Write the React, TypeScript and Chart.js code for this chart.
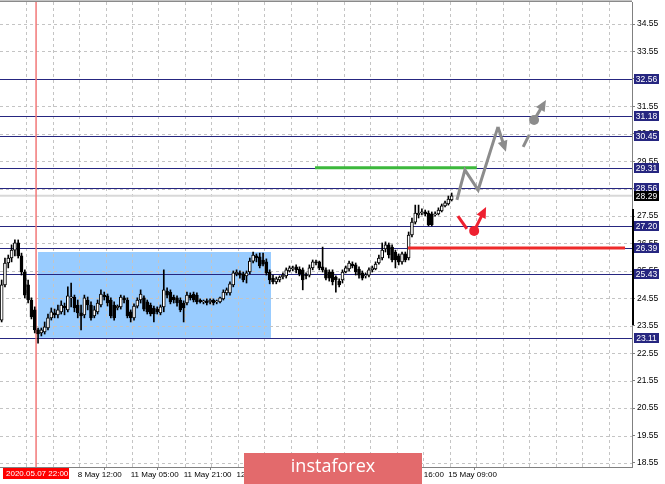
import { useEffect, useRef } from "react";
import { Chart, registerables } from "chart.js";
Chart.register(...registerables);

// ---- Candles (hourly bars), prices ----
const OPEN = [
  23.76, 25.04, 25.84, 26.02, 26.31, 26.57, 26.10, 25.51, 25.04, 24.49,
  24.13, 23.40, 23.29, 23.33, 23.47, 23.84, 24.02, 23.95, 24.06, 24.27,
  24.13, 24.57, 24.60, 24.31, 24.02, 23.95, 24.49, 24.31, 23.91, 24.06,
  24.31, 24.67, 24.64, 24.49, 24.31, 24.20, 24.24, 24.57, 24.49, 24.06,
  23.84, 24.27, 24.49, 24.57, 24.42, 24.31, 24.20, 24.16, 24.02, 24.24,
  24.82, 24.78, 24.60, 24.57, 24.49, 24.38, 24.38, 24.67, 24.71, 24.67,
  24.49, 24.42, 24.46, 24.42, 24.49, 24.42, 24.42, 24.53, 24.75, 24.75,
  25.04, 25.44, 25.48, 25.44, 25.37, 25.51, 25.91, 26.10, 26.06, 25.95,
  25.88, 25.51, 25.29, 25.15, 25.22, 25.33, 25.37, 25.55, 25.62, 25.70,
  25.62, 25.59, 25.40, 25.40, 25.66, 25.88, 25.88, 25.70, 25.59, 25.51,
  25.51, 25.33, 25.18, 25.22, 25.51, 25.62, 25.80, 25.77, 25.62, 25.48,
  25.37, 25.40, 25.59, 25.62, 25.84, 26.02, 26.35, 26.50, 26.42, 26.24,
  26.10, 25.88, 26.17, 26.02, 26.86, 27.33, 27.59, 27.66, 27.70, 27.66,
  27.63, 27.59, 27.63, 27.74, 27.92, 27.99, 28.14,
];
const HIGH = [
  25.22, 26.02, 26.13, 26.50, 26.68, 26.68, 26.20, 25.59, 25.22, 24.57,
  24.24, 23.47, 23.47, 23.69, 23.98, 24.20, 24.16, 24.31, 24.46, 24.38,
  24.97, 25.11, 24.67, 24.49, 24.31, 24.67, 24.60, 24.42, 24.27, 24.49,
  24.86, 24.78, 24.71, 24.57, 24.42, 24.31, 24.67, 24.64, 24.57, 24.13,
  24.35, 24.57, 24.86, 24.64, 24.49, 24.38, 24.27, 24.24, 24.31, 25.59,
  24.93, 24.86, 24.67, 24.64, 24.57, 24.46, 24.78, 24.75, 24.78, 24.75,
  24.53, 24.49, 24.53, 24.53, 24.53, 24.49, 24.60, 24.86, 24.93, 25.15,
  25.55, 25.59, 25.55, 25.51, 25.55, 26.02, 26.24, 26.17, 26.20, 26.20,
  25.99, 25.59, 25.40, 25.33, 25.37, 25.48, 25.66, 25.73, 25.73, 25.77,
  25.70, 25.66, 25.48, 25.77, 25.95, 25.95, 25.91, 26.42, 25.66, 25.59,
  25.59, 25.37, 25.26, 25.59, 25.73, 25.91, 25.88, 25.84, 25.70, 25.55,
  25.48, 25.66, 25.73, 25.88, 26.13, 26.57, 26.61, 26.57, 26.50, 26.31,
  26.17, 26.24, 26.24, 26.97, 27.48, 27.95, 27.95, 27.81, 27.77, 27.74,
  27.70, 27.70, 27.85, 27.99, 28.10, 28.28, 28.39,
];
const LOW = [
  23.69, 24.97, 25.66, 25.88, 26.10, 26.02, 25.40, 24.57, 24.38, 23.80,
  23.29, 22.92, 23.18, 23.25, 23.40, 23.76, 23.84, 23.84, 23.98, 23.95,
  24.06, 24.24, 24.06, 23.84, 23.40, 23.84, 24.13, 23.76, 23.84, 23.98,
  24.24, 24.49, 24.27, 23.84, 23.76, 24.13, 24.16, 24.38, 23.84, 23.69,
  23.76, 24.20, 24.38, 24.09, 23.98, 23.91, 23.69, 23.98, 23.95, 24.06,
  24.57, 24.35, 24.38, 24.27, 24.06, 23.69, 24.31, 24.49, 24.42, 24.35,
  24.38, 24.35, 24.31, 24.35, 24.31, 24.35, 24.38, 24.49, 24.67, 24.67,
  24.97, 25.37, 25.29, 25.15, 25.11, 25.44, 25.84, 25.88, 25.66, 25.73,
  25.40, 25.08, 25.08, 25.08, 25.15, 25.26, 25.29, 25.51, 25.55, 25.48,
  25.37, 24.86, 25.26, 25.33, 25.59, 25.77, 25.59, 25.51, 25.22, 25.18,
  25.04, 24.78, 24.97, 25.11, 25.48, 25.55, 25.66, 25.40, 25.29, 25.22,
  25.29, 25.33, 25.51, 25.59, 25.80, 25.95, 26.24, 26.02, 25.88, 25.66,
  25.77, 25.80, 25.88, 25.95, 26.79, 27.26, 27.48, 27.59, 27.55, 27.19,
  27.19, 27.55, 27.59, 27.70, 27.88, 27.95, 28.10,
];
const CLOSE = [
  25.04, 25.84, 26.02, 26.31, 26.57, 26.10, 25.51, 24.67, 24.49, 23.87,
  23.40, 23.25, 23.40, 23.51, 23.84, 24.06, 23.95, 24.13, 24.31, 24.20,
  24.64, 24.60, 24.20, 24.02, 23.91, 24.57, 24.31, 23.84, 24.13, 24.38,
  24.71, 24.60, 24.38, 23.91, 23.84, 24.27, 24.60, 24.49, 23.91, 23.84,
  24.27, 24.49, 24.71, 24.16, 24.06, 23.98, 23.98, 24.06, 24.24, 24.86,
  24.67, 24.42, 24.49, 24.38, 24.13, 24.20, 24.67, 24.57, 24.49, 24.42,
  24.42, 24.46, 24.38, 24.49, 24.38, 24.46, 24.57, 24.78, 24.86, 25.08,
  25.48, 25.51, 25.40, 25.22, 25.48, 25.91, 26.13, 26.02, 25.73, 25.80,
  25.48, 25.22, 25.15, 25.26, 25.33, 25.40, 25.59, 25.66, 25.66, 25.59,
  25.44, 25.22, 25.37, 25.66, 25.88, 25.84, 25.66, 25.59, 25.29, 25.29,
  25.15, 25.22, 25.04, 25.51, 25.66, 25.84, 25.73, 25.51, 25.40, 25.29,
  25.40, 25.59, 25.66, 25.80, 26.02, 26.31, 26.50, 26.13, 25.95, 25.95,
  25.88, 26.17, 25.95, 26.86, 27.33, 27.66, 27.66, 27.70, 27.63, 27.23,
  27.23, 27.63, 27.77, 27.92, 28.03, 28.17, 28.29,
];

// ---- Axes ----
const SLOT_COUNT = 191; // bar slots across the plot (future area included)
const Y_MIN = 18.404;
const Y_MAX = 35.352;
const Y_TICKS = [
  18.55, 19.55, 20.55, 21.55, 22.55, 23.55, 24.55, 25.55, 26.55,
  27.55, 28.55, 29.55, 30.55, 31.55, 32.55, 33.55, 34.55,
];
const X_TICK_INDEX = [23, 39, 55, 71, 87, 103, 119, 135];
const X_TICK_LABELS = [
  "8 May 12:00", "11 May 05:00", "11 May 21:00", "12 May 13:00",
  "13 May 05:00", "13 May 21:00", "14 May 16:00", "15 May 09:00",
];
const GRID_X_FIRST = 7.4;
const GRID_X_STEP = 8;

// ---- Annotations (bar index / price) ----
const LEVELS = [32.56, 31.18, 30.45, 29.31, 28.56, 27.2, 26.39, 25.43, 23.11];
const CURRENT_PRICE = 28.29;
const ZONE_X = [11, 81.4];
const ZONE_Y = [23.11, 26.24];
const CURSOR_INDEX = 10.4;
const CURSOR_LABEL = "2020.05.07 22:00";
const GREEN_X = [94.7, 143.6];
const GREEN_Y = 29.31;
const RED_X = [122.8, 188.4];
const RED_Y = 26.39;
const GRAY_PATH_X = [137.6, 140.0, 144.0, 150.0, 152.4];
const GRAY_PATH_Y = [28.14, 29.23, 28.5, 30.8, 29.89];
const GRAY_DASH_X = [157.6, 159.4];
const GRAY_DASH_Y = [30.07, 30.5];
const GRAY_DOT = [160.9, 31.05];
const GRAY_TIP = [164.5, 31.78];
const RED_DASH_X = [137.9, 140.6];
const RED_DASH_Y = [27.55, 27.08];
const RED_DOT = [142.8, 27.01];
const RED_TIP = [146.4, 27.88];
const SCALE_BAR_Y = [23.58, 27.81];
const WATERMARK = "instaforex";

const FONT = "'Liberation Sans', Arial, sans-serif";
const NAVY = "#262680";

function arrow(ctx: CanvasRenderingContext2D, x1: number, y1: number, x2: number, y2: number, color: string, w: number) {
  const ang = Math.atan2(y2 - y1, x2 - x1);
  const len = 11, half = 5;
  ctx.strokeStyle = color;
  ctx.lineWidth = w;
  ctx.beginPath();
  ctx.moveTo(x1, y1);
  ctx.lineTo(x2 - len * 0.7 * Math.cos(ang), y2 - len * 0.7 * Math.sin(ang));
  ctx.stroke();
  ctx.fillStyle = color;
  ctx.beginPath();
  ctx.moveTo(x2, y2);
  ctx.lineTo(x2 - len * Math.cos(ang) + half * Math.sin(ang), y2 - len * Math.sin(ang) - half * Math.cos(ang));
  ctx.lineTo(x2 - len * Math.cos(ang) - half * Math.sin(ang), y2 - len * Math.sin(ang) + half * Math.cos(ang));
  ctx.closePath();
  ctx.fill();
}

const overlay = {
  id: "overlay",
  beforeDatasetsDraw(chart: any) {
    const { ctx, chartArea: a, scales } = chart;
    const x = scales.x, y = scales.y;
    ctx.save();
    ctx.beginPath();
    ctx.rect(a.left, a.top, a.right - a.left, a.bottom - a.top);
    ctx.clip();
    // zone
    const zx1 = x.getPixelForValue(ZONE_X[0]), zx2 = x.getPixelForValue(ZONE_X[1]);
    const zy1 = y.getPixelForValue(ZONE_Y[1]), zy2 = y.getPixelForValue(ZONE_Y[0]);
    ctx.fillStyle = "#99CCFF";
    ctx.fillRect(zx1, zy1, zx2 - zx1, zy2 - zy1);
    // grid
    ctx.strokeStyle = "#C4C4C4";
    ctx.lineWidth = 1;
    ctx.setLineDash([3, 3]);
    for (let g = GRID_X_FIRST; g < SLOT_COUNT; g += GRID_X_STEP) {
      const px = Math.round(x.getPixelForValue(g)) + 0.5;
      ctx.beginPath(); ctx.moveTo(px, a.top); ctx.lineTo(px, a.bottom); ctx.stroke();
    }
    for (const t of Y_TICKS) {
      const py = Math.round(y.getPixelForValue(t)) + 0.5;
      ctx.beginPath(); ctx.moveTo(a.left, py); ctx.lineTo(a.right, py); ctx.stroke();
    }
    ctx.setLineDash([]);
    // current price line
    const cp = y.getPixelForValue(CURRENT_PRICE);
    ctx.strokeStyle = "#D8D8D8";
    ctx.lineWidth = 2;
    ctx.beginPath(); ctx.moveTo(a.left, cp); ctx.lineTo(a.right, cp); ctx.stroke();
    // level lines
    ctx.strokeStyle = NAVY;
    ctx.lineWidth = 1;
    for (const l of LEVELS) {
      const py = Math.round(y.getPixelForValue(l)) + 0.5;
      ctx.beginPath(); ctx.moveTo(a.left, py); ctx.lineTo(a.right, py); ctx.stroke();
    }
    // cursor line
    const cx = x.getPixelForValue(CURSOR_INDEX);
    ctx.strokeStyle = "#F27878";
    ctx.lineWidth = 1.5;
    ctx.beginPath(); ctx.moveTo(cx, a.top); ctx.lineTo(cx, a.bottom); ctx.stroke();
    ctx.restore();
  },
  afterDatasetsDraw(chart: any) {
    const { ctx, chartArea: a, scales } = chart;
    const x = scales.x, y = scales.y;
    ctx.save();
    ctx.beginPath();
    ctx.rect(a.left, a.top, a.right - a.left, a.bottom - a.top);
    ctx.clip();
    ctx.lineCap = "butt";
    // green line
    ctx.strokeStyle = "#3CB83C";
    ctx.lineWidth = 3;
    const gy = y.getPixelForValue(GREEN_Y);
    ctx.beginPath(); ctx.moveTo(x.getPixelForValue(GREEN_X[0]), gy); ctx.lineTo(x.getPixelForValue(GREEN_X[1]), gy); ctx.stroke();
    // red line
    ctx.strokeStyle = "#EE2A2A";
    const ry = y.getPixelForValue(RED_Y);
    ctx.beginPath(); ctx.moveTo(x.getPixelForValue(RED_X[0]), ry); ctx.lineTo(x.getPixelForValue(RED_X[1]), ry); ctx.stroke();
    // gray path
    const gray = "#8C8C8C";
    const pts = GRAY_PATH_X.map((v, i) => [x.getPixelForValue(v), y.getPixelForValue(GRAY_PATH_Y[i])]);
    ctx.strokeStyle = gray;
    ctx.lineWidth = 3;
    ctx.lineJoin = "miter";
    ctx.beginPath();
    ctx.moveTo(pts[0][0], pts[0][1]);
    for (let i = 1; i < pts.length - 1; i++) ctx.lineTo(pts[i][0], pts[i][1]);
    ctx.stroke();
    const n = pts.length;
    arrow(ctx, pts[n - 2][0], pts[n - 2][1], pts[n - 1][0], pts[n - 1][1], gray, 3);
    ctx.strokeStyle = gray;
    ctx.beginPath();
    ctx.moveTo(x.getPixelForValue(GRAY_DASH_X[0]), y.getPixelForValue(GRAY_DASH_Y[0]));
    ctx.lineTo(x.getPixelForValue(GRAY_DASH_X[1]), y.getPixelForValue(GRAY_DASH_Y[1]));
    ctx.stroke();
    const gdx = x.getPixelForValue(GRAY_DOT[0]), gdy = y.getPixelForValue(GRAY_DOT[1]);
    arrow(ctx, gdx, gdy, x.getPixelForValue(GRAY_TIP[0]), y.getPixelForValue(GRAY_TIP[1]), gray, 3);
    ctx.fillStyle = gray;
    ctx.beginPath(); ctx.arc(gdx, gdy, 5, 0, Math.PI * 2); ctx.fill();
    // red marks
    const red = "#EE2030";
    ctx.strokeStyle = red;
    ctx.beginPath();
    ctx.moveTo(x.getPixelForValue(RED_DASH_X[0]), y.getPixelForValue(RED_DASH_Y[0]));
    ctx.lineTo(x.getPixelForValue(RED_DASH_X[1]), y.getPixelForValue(RED_DASH_Y[1]));
    ctx.stroke();
    const rdx = x.getPixelForValue(RED_DOT[0]), rdy = y.getPixelForValue(RED_DOT[1]);
    arrow(ctx, rdx, rdy, x.getPixelForValue(RED_TIP[0]), y.getPixelForValue(RED_TIP[1]), red, 3);
    ctx.fillStyle = red;
    ctx.beginPath(); ctx.arc(rdx, rdy, 5, 0, Math.PI * 2); ctx.fill();
    ctx.restore();
  },
  afterDraw(chart: any) {
    const { ctx, chartArea: a, scales } = chart;
    const y = scales.y;
    ctx.save();
    // top border
    ctx.strokeStyle = "#8A8A8A";
    ctx.lineWidth = 1.5;
    ctx.beginPath(); ctx.moveTo(a.left, a.top - 0.75); ctx.lineTo(a.right, a.top - 0.75); ctx.stroke();
    // scale bar on the price axis
    ctx.strokeStyle = "#000";
    ctx.lineWidth = 2;
    ctx.beginPath();
    ctx.moveTo(a.right + 1, y.getPixelForValue(SCALE_BAR_Y[1]));
    ctx.lineTo(a.right + 1, y.getPixelForValue(SCALE_BAR_Y[0]));
    ctx.stroke();
    // level labels
    ctx.font = `8.5px ${FONT}`;
    ctx.textAlign = "center";
    ctx.textBaseline = "middle";
    const boxL = a.right + 2, boxW = 25, boxH = 10;
    const labelBox = (v: number, bg: string) => {
      const py = Math.round(y.getPixelForValue(v));
      ctx.fillStyle = bg;
      ctx.fillRect(boxL, py - 5, boxW, boxH);
      ctx.fillStyle = "#fff";
      ctx.fillText(v.toFixed(2), boxL + boxW / 2, py + 0.5);
    };
    for (const l of LEVELS) labelBox(l, NAVY);
    labelBox(CURRENT_PRICE, "#000");
    // cursor date label
    ctx.fillStyle = "#FF0000";
    ctx.fillRect(a.left + 3, a.bottom + 1, 66, 11);
    ctx.fillStyle = "#fff";
    ctx.textAlign = "left";
    ctx.font = `8px ${FONT}`;
    ctx.fillText(CURSOR_LABEL, a.left + 6, a.bottom + 7);
    // watermark
    ctx.fillStyle = "#E36A6C";
    ctx.fillRect(244, 453, 178, 31);
    ctx.fillStyle = "#fff";
    ctx.font = "18px 'Open Sans', sans-serif";
    ctx.textAlign = "center";
    ctx.textBaseline = "middle";
    ctx.fillText(WATERMARK, 333, 467);
    ctx.restore();
  },
};

export default function App() {
  const ref = useRef<HTMLCanvasElement | null>(null);
  useEffect(() => {
    document.body.style.margin = "0";
    const canvas = ref.current;
    if (!canvas) return;
    const labels = Array.from({ length: SLOT_COUNT }, (_, i) => String(i));
    const bodies = OPEN.map((o, i) => [Math.min(o, CLOSE[i]), Math.max(o, CLOSE[i])]);
    const wicks = LOW.map((l, i) => [l, HIGH[i]]);
    const bodyColors = OPEN.map((o, i) => (CLOSE[i] >= o ? "#ffffff" : "#000000"));
    const chart = new Chart(canvas, {
      type: "bar",
      data: {
        labels,
        datasets: [
          {
            data: bodies as any,
            backgroundColor: bodyColors,
            borderColor: "#000",
            borderWidth: 1,
            borderSkipped: false,
            barThickness: 3,
            minBarLength: 1,
            grouped: false,
            order: 0,
          } as any,
          {
            data: wicks as any,
            backgroundColor: "#000",
            borderWidth: 0,
            barThickness: 1,
            grouped: false,
            order: 1,
          } as any,
        ],
      },
      options: {
        animation: false,
        responsive: false,
        maintainAspectRatio: false,
        layout: { padding: { top: 2, left: 0, right: 0, bottom: 0 } },
        plugins: { legend: { display: false }, tooltip: { enabled: false } },
        scales: {
          x: {
            type: "category",
            offset: true,
            grid: { display: true, drawOnChartArea: false, drawTicks: true, tickLength: 3, color: "#808080" },
            border: { display: true, color: "#808080" },
            ticks: {
              autoSkip: false,
              maxRotation: 0,
              minRotation: 0,
              align: "start",
              padding: 0,
              color: "#000",
              font: { family: FONT, size: 8 },
              callback: (_v: any, idx: number) => X_TICK_LABELS[idx],
            },
            afterBuildTicks: (axis: any) => {
              axis.ticks = X_TICK_INDEX.map((v) => ({ value: v }));
            },
            afterFit: (axis: any) => {
              axis.height = 17;
              axis.paddingLeft = 0;
              axis.paddingRight = 0;
            },
          } as any,
          y: {
            type: "linear",
            position: "right",
            min: Y_MIN,
            max: Y_MAX,
            grid: { display: true, drawOnChartArea: false, drawTicks: true, tickLength: 3, color: "#808080" },
            border: { display: true, color: "#808080" },
            ticks: {
              padding: 2,
              color: "#000",
              font: { family: FONT, size: 8.5 },
              callback: (v: any) => Number(v).toFixed(2),
            },
            afterBuildTicks: (axis: any) => {
              axis.ticks = Y_TICKS.map((v) => ({ value: v }));
            },
            afterFit: (axis: any) => {
              axis.width = 33;
              axis.paddingTop = 0;
              axis.paddingBottom = 0;
            },
          } as any,
        },
      },
      plugins: [overlay],
    });
    return () => chart.destroy();
  }, []);
  return <canvas ref={ref} width={665} height={484} style={{ display: "block" }} />;
}
